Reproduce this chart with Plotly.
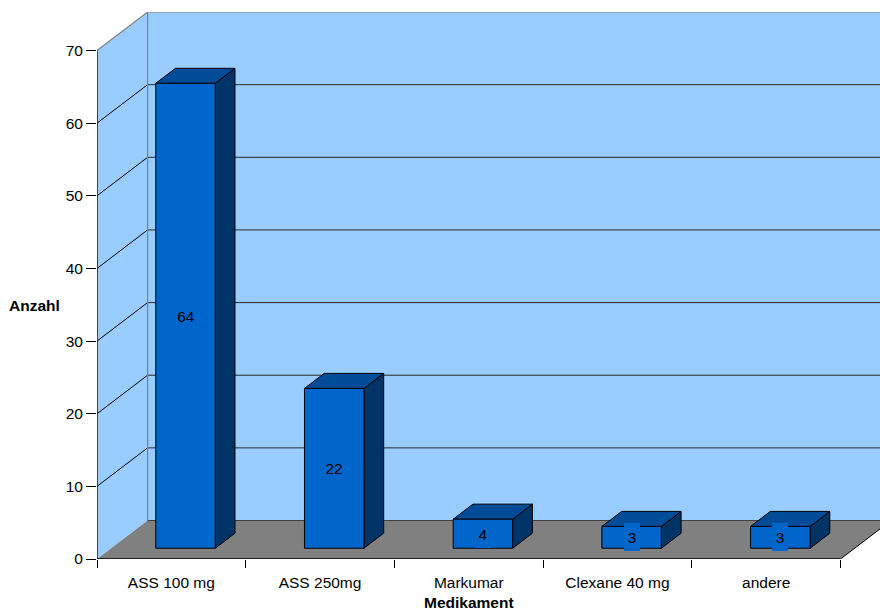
import plotly.graph_objects as go

# ---- data ----
categories = ["ASS 100 mg", "ASS 250mg", "Markumar", "Clexane 40 mg", "andere"]
values = [64, 22, 4, 3, 3]
y_ticks = [0, 10, 20, 30, 40, 50, 60, 70]
x_title = "Medikament"
y_title = "Anzahl"

# ---- style / projection ----
FRONT = "#0066CC"
TOP = "#004C99"
SIDE = "#003366"
WALL = "#99CCFF"
FLOOR = "#808080"
FONT = "Liberation Sans, Arial, sans-serif"
FS = 15.5

W, H = 880, 610
ML, MR, MT, MB = 97, 0, 12, 51
PX_X = 148.7            # px per category
PX_Y = 7.264            # px per value unit
XMAX = (W - ML - MR) / PX_X
YMAX = (H - MT - MB) / PX_Y
DX = 50.6 / PX_X        # depth projection (axis units)
DY = 38.5 / PX_Y
BAR_W = 0.40
D0, D1 = 0.28, 0.67

n = len(categories)
ytop = y_ticks[-1]


def P(x, y, d):
    return (x + d * DX, y + d * DY)


def poly(pts, fill, line="black", width=1.0):
    xs = [p[0] for p in pts] + [pts[0][0]]
    ys = [p[1] for p in pts] + [pts[0][1]]
    return go.Scatter(x=xs, y=ys, mode="lines", fill="toself", fillcolor=fill,
                      line=dict(color=line, width=width), hoverinfo="skip",
                      showlegend=False)


def lines(segs, color, width=1.0):
    xs, ys = [], []
    for seg in segs:
        for p in seg:
            xs.append(p[0])
            ys.append(p[1])
        xs.append(None)
        ys.append(None)
    return go.Scatter(x=xs, y=ys, mode="lines", line=dict(color=color, width=width),
                      hoverinfo="skip", showlegend=False)


fig = go.Figure()

# walls
fig.add_trace(poly([P(0, 0, 0), P(0, ytop, 0), P(0, ytop, 1), P(0, 0, 1)], WALL, width=0))
fig.add_trace(poly([P(0, 0, 1), P(n + 1, 0, 1), P(n + 1, ytop, 1), P(0, ytop, 1)], WALL, width=0))

# gridlines
fig.add_trace(lines([[P(0, t, 0), P(0, t, 1)] for t in y_ticks[1:-1]], "black", 1))
fig.add_trace(lines([[P(0, t, 1), P(n + 1, t, 1)] for t in y_ticks[1:-1]], "#2a2a2a", 1))
fig.add_trace(lines([[P(0, ytop, 0), P(0, ytop, 1), P(n + 1, ytop, 1)],
                     [P(0, 0, 1), P(0, ytop, 1)]], "#808080", 1.2))

# floor
fig.add_trace(poly([P(0, 0, 0), P(n, 0, 0), P(n, 0, 1), P(0, 0, 1)], FLOOR, width=0))
fig.add_trace(lines([[P(0, 0, 1), P(n, 0, 1)]], "#404040", 1))
fig.add_trace(lines([[P(n, 0, 0), P(n, 0, 1)]], "black", 1))

# axis lines
fig.add_trace(lines([[P(0, 0, 0), P(0, ytop, 0)], [P(0, 0, 0), P(n, 0, 0)]], "black", 1.3))

# bars
annotations = []
for i, v in enumerate(values):
    x0 = i + (1 - BAR_W) / 2
    x1 = x0 + BAR_W
    fig.add_trace(poly([P(x1, 0, D0), P(x1, 0, D1), P(x1, v, D1), P(x1, v, D0)], SIDE))
    fig.add_trace(poly([P(x0, v, D0), P(x1, v, D0), P(x1, v, D1), P(x0, v, D1)], TOP))
    fig.add_trace(poly([P(x0, 0, D0), P(x1, 0, D0), P(x1, v, D0), P(x0, v, D0)], FRONT))
    cx, cy = P(i + 0.5, v / 2, D0)
    txt = str(v)
    annotations.append(dict(x=cx, y=cy, xref="x", yref="y", text=txt, showarrow=False,
                            font=dict(family=FONT, size=FS, color="black"),
                            bgcolor=FRONT, borderpad=0, borderwidth=0,
                            width=8 * len(txt) + 8, height=28,
                            xanchor="center", yanchor="middle"))

annotations.append(dict(x=(35 - ML) / (W - ML - MR), y=(H - MB - 305) / (H - MT - MB),
                        xref="paper", yref="paper", text="<b>%s</b>" % y_title,
                        showarrow=False, font=dict(family=FONT, size=FS, color="black"),
                        xanchor="center", yanchor="middle"))
annotations.append(dict(x=n / 2, y=0, xref="x", yref="paper", yshift=-43,
                        text="<b>%s</b>" % x_title, showarrow=False,
                        font=dict(family=FONT, size=FS, color="black"),
                        xanchor="center", yanchor="middle"))

fig.update_layout(
    width=W, height=H,
    margin=dict(l=ML, r=MR, t=MT, b=MB, pad=0),
    paper_bgcolor="white", plot_bgcolor="white",
    showlegend=False,
    font=dict(family=FONT, size=FS, color="black"),
    annotations=annotations,
    xaxis=dict(range=[0, XMAX], tickmode="array",
               tickvals=[i + 0.5 for i in range(n)], ticktext=categories,
               ticks="", showline=False, showgrid=False, zeroline=False,
               ticklabelstandoff=12,
               minor=dict(tickmode="array", tickvals=list(range(n + 1)), ticks="outside",
                          ticklen=8, tickcolor="black", tickwidth=1, showgrid=False),
               fixedrange=True),
    yaxis=dict(range=[0, YMAX], tickmode="array", tickvals=y_ticks,
               ticks="outside", ticklen=10, tickcolor="black", tickwidth=1,
               showline=False, showgrid=False, zeroline=False, fixedrange=True),
)

fig.write_html("out.html")
